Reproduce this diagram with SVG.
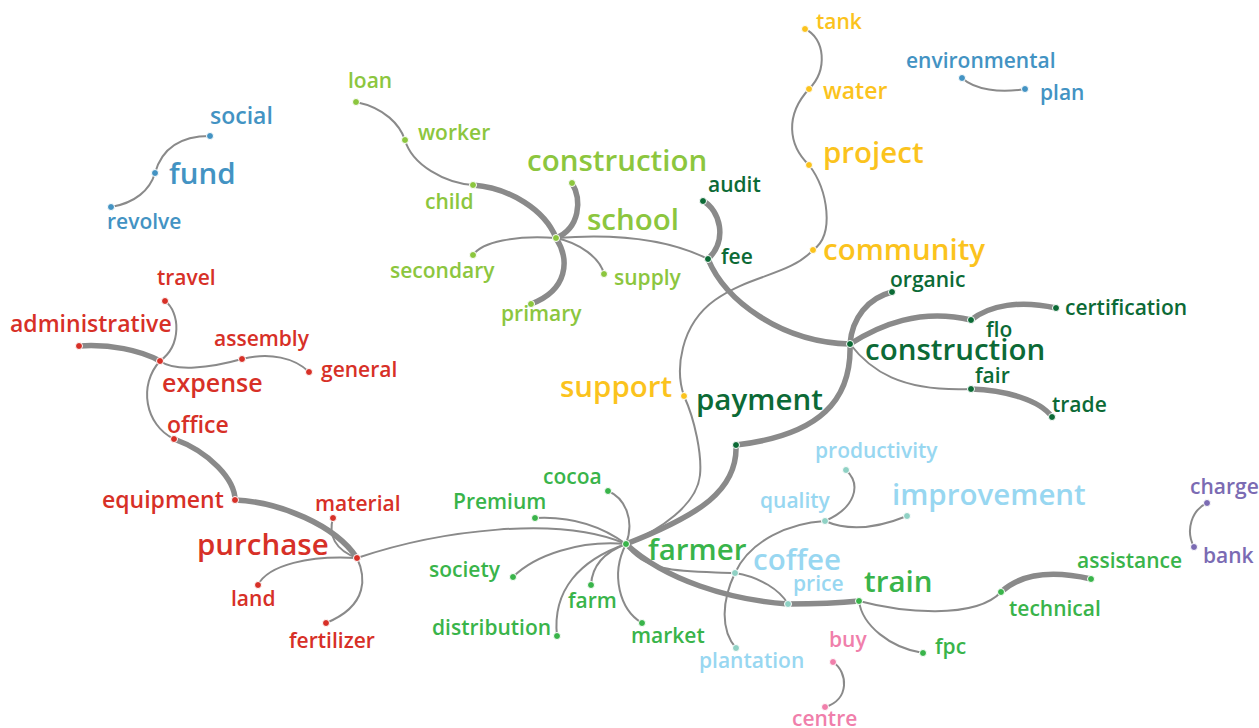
<svg xmlns="http://www.w3.org/2000/svg" width="1259" height="728" viewBox="0 0 1259 728">
<style>
text{font-family:"Open Sans","Noto Sans",sans-serif;font-weight:600}
.s{font-size:21px}.m{font-size:23px}.l{font-size:29.5px}.x{font-size:25px}
circle{stroke:#fff;stroke-width:1}
.e path{fill:none;stroke:#8a8a8a;stroke-width:2;stroke-linecap:round}
.e path.k{stroke-width:5.5}
.bl{fill:#4393c3}.rd{fill:#d73027}.lg{fill:#8cc63e}.dg{fill:#0c6a36}.yl{fill:#fbc31d}.gr{fill:#39b44a}.lb{fill:#98d7f1}.lbd{fill:#8fd1c4}.pk{fill:#f07fab}.pu{fill:#7b6bb3}
</style>
<rect width="1259" height="728" fill="#fff"/>
<g id="connectors" class="e">
<path d="M111,207 C135,203 150,190 155,173 C162,148 180,136 210,136"/>
<path d="M962,78 C975,90 1000,93 1025,89"/>
<path class="k" d="M79,346 C110,344 140,350 160,361"/>
<path d="M165,301 C180,312 182,345 160,361"/>
<path d="M160,361 C175,372 210,368 242,359 C270,352 295,358 309,372"/>
<path d="M160,361 C138,385 145,425 174,439"/>
<path class="k" d="M174,439 C210,452 235,480 235,500"/>
<path class="k" d="M235,500 C280,502 335,525 357,558"/>
<path d="M333,518 C328,535 335,550 357,558"/>
<path d="M357,558 C310,555 268,565 258,585"/>
<path d="M357,558 C365,575 370,605 326,623"/>
<path d="M357,558 C440,530 560,515 626,544"/>
<path d="M356,102 C385,108 400,125 405,140"/>
<path d="M405,140 C412,165 445,183 473,185"/>
<path class="k" d="M473,185 C510,188 545,210 556,238"/>
<path class="k" d="M572,183 C582,200 580,228 556,238"/>
<path class="k" d="M556,238 C570,260 568,290 531,304"/>
<path d="M556,238 C515,235 482,242 473,255"/>
<path d="M556,238 C580,243 600,258 604,274"/>
<path d="M556,238 C620,233 670,240 708,259"/>
<path class="k" d="M703,201 C720,210 728,240 708,259"/>
<path class="k" d="M708,259 C725,300 780,342 850,344"/>
<path class="k" d="M850,344 C852,318 868,298 892,292"/>
<path class="k" d="M850,344 C880,325 920,308 971,320"/>
<path class="k" d="M971,320 C990,305 1020,300 1056,308"/>
<path d="M850,344 C870,370 900,392 971,389"/>
<path class="k" d="M971,389 C1005,390 1040,400 1052,417"/>
<path class="k" d="M850,344 C852,400 820,435 736,445"/>
<path class="k" d="M736,445 C738,490 700,515 626,544"/>
<path d="M805,29 C825,38 828,70 809,89"/>
<path d="M809,89 C785,115 788,145 809,165"/>
<path d="M809,165 C828,190 835,235 813,250"/>
<path d="M813,250 C790,275 750,275 715,300 C680,325 675,370 684,396"/>
<path d="M684,396 C695,420 702,455 700,475 C697,505 660,530 626,544"/>
<path d="M608,491 C625,498 635,520 626,544"/>
<path d="M535,518 C570,516 600,525 626,544"/>
<path d="M513,577 C535,555 580,540 626,544"/>
<path d="M591,585 C592,565 605,552 626,544"/>
<path d="M557,636 C552,590 580,560 626,544"/>
<path d="M642,623 C620,610 610,575 626,544"/>
<path d="M626,544 C645,575 690,571 735,573"/>
<path class="k" d="M626,544 C665,580 730,600 788,604"/>
<path d="M735,573 C760,577 780,590 788,604"/>
<path d="M825,521 C790,523 750,540 735,573 C722,600 720,630 736,648"/>
<path d="M846,470 C862,485 855,508 825,521"/>
<path d="M825,521 C850,532 880,527 907,516"/>
<path d="M833,662 C848,672 850,700 825,707"/>
<path class="k" d="M788,604 C810,604 840,603 859,601"/>
<path d="M859,601 C900,612 975,620 1001,592"/>
<path class="k" d="M1001,592 C1025,570 1060,572 1091,579"/>
<path d="M859,601 C862,625 890,648 923,653"/>
<path d="M1207,503 C1192,510 1185,530 1194,547"/>
</g>
<g id="n-social"><circle class="bl" cx="210" cy="136" r="3.5"/><text class="bl m" x="210" y="124">social</text></g>
<g id="n-fund"><circle class="bl" cx="155" cy="173" r="3.5"/><text class="bl l" x="169" y="184">fund</text></g>
<g id="n-revolve"><circle class="bl" cx="111" cy="207" r="3.5"/><text class="bl s" x="107" y="229">revolve</text></g>
<g id="n-environmental"><circle class="bl" cx="962" cy="78" r="3.5"/><text class="bl s" x="906" y="68">environmental</text></g>
<g id="n-plan"><circle class="bl" cx="1025" cy="89" r="3.5"/><text class="bl s" x="1040" y="100">plan</text></g>
<g id="n-travel"><circle class="rd" cx="165" cy="301" r="3.5"/><text class="rd s" x="157" y="285">travel</text></g>
<g id="n-administrative"><circle class="rd" cx="79" cy="346" r="3.5"/><text class="rd m" x="10" y="332">administrative</text></g>
<g id="n-expense"><circle class="rd" cx="160" cy="361" r="3.5"/><text class="rd x" x="162" y="392">expense</text></g>
<g id="n-assembly"><circle class="rd" cx="242" cy="359" r="3.5"/><text class="rd s" x="214" y="346">assembly</text></g>
<g id="n-general"><circle class="rd" cx="309" cy="372" r="3.5"/><text class="rd s" x="321" y="377">general</text></g>
<g id="n-office"><circle class="rd" cx="174" cy="439" r="3.5"/><text class="rd m" x="167" y="433">office</text></g>
<g id="n-equipment"><circle class="rd" cx="235" cy="500" r="3.5"/><text class="rd m" x="102" y="508">equipment</text></g>
<g id="n-material"><circle class="rd" cx="333" cy="518" r="3.5"/><text class="rd s" x="315" y="511">material</text></g>
<g id="n-purchase"><circle class="rd" cx="357" cy="558" r="3.5"/><text class="rd l" x="197" y="555">purchase</text></g>
<g id="n-land"><circle class="rd" cx="258" cy="585" r="3.5"/><text class="rd s" x="231" y="606">land</text></g>
<g id="n-fertilizer"><circle class="rd" cx="326" cy="623" r="3.5"/><text class="rd s" x="289" y="648">fertilizer</text></g>
<g id="n-loan"><circle class="lg" cx="356" cy="102" r="3.5"/><text class="lg s" x="348" y="88">loan</text></g>
<g id="n-worker"><circle class="lg" cx="405" cy="140" r="3.5"/><text class="lg s" x="418" y="140">worker</text></g>
<g id="n-child"><circle class="lg" cx="473" cy="185" r="3.5"/><text class="lg s" x="425" y="209">child</text></g>
<g id="n-construction-lg"><circle class="lg" cx="572" cy="183" r="3.5"/><text class="lg l" x="527" y="171">construction</text></g>
<g id="n-school"><circle class="lg" cx="556" cy="238" r="3.5"/><text class="lg l" x="587" y="230">school</text></g>
<g id="n-secondary"><circle class="lg" cx="473" cy="255" r="3.5"/><text class="lg s" x="390" y="278">secondary</text></g>
<g id="n-supply"><circle class="lg" cx="604" cy="274" r="3.5"/><text class="lg s" x="614" y="285">supply</text></g>
<g id="n-primary"><circle class="lg" cx="531" cy="304" r="3.5"/><text class="lg s" x="501" y="321">primary</text></g>
<g id="n-audit"><circle class="dg" cx="703" cy="201" r="3.5"/><text class="dg s" x="708" y="192">audit</text></g>
<g id="n-fee"><circle class="dg" cx="708" cy="259" r="3.5"/><text class="dg s" x="721" y="264">fee</text></g>
<g id="n-organic"><circle class="dg" cx="892" cy="292" r="3.5"/><text class="dg s" x="890" y="287">organic</text></g>
<g id="n-flo"><circle class="dg" cx="971" cy="320" r="3.5"/><text class="dg s" x="986" y="337">flo</text></g>
<g id="n-certification"><circle class="dg" cx="1056" cy="308" r="3.5"/><text class="dg s" x="1065" y="315">certification</text></g>
<g id="n-construction-dg"><circle class="dg" cx="850" cy="344" r="3.5"/><text class="dg l" x="865" y="360">construction</text></g>
<g id="n-fair"><circle class="dg" cx="971" cy="389" r="3.5"/><text class="dg s" x="975" y="383">fair</text></g>
<g id="n-trade"><circle class="dg" cx="1052" cy="417" r="3.5"/><text class="dg s" x="1052" y="412">trade</text></g>
<g id="n-payment"><circle class="dg" cx="736" cy="445" r="3.5"/><text class="dg l" x="696" y="410">payment</text></g>
<g id="n-tank"><circle class="yl" cx="805" cy="29" r="3.5"/><text class="yl s" x="816" y="29">tank</text></g>
<g id="n-water"><circle class="yl" cx="809" cy="89" r="3.5"/><text class="yl m" x="823" y="99">water</text></g>
<g id="n-project"><circle class="yl" cx="809" cy="165" r="3.5"/><text class="yl l" x="823" y="163">project</text></g>
<g id="n-community"><circle class="yl" cx="813" cy="250" r="3.5"/><text class="yl l" x="823" y="260">community</text></g>
<g id="n-support"><circle class="yl" cx="684" cy="396" r="3.5"/><text class="yl l" x="560" y="397">support</text></g>
<g id="n-cocoa"><circle class="gr" cx="608" cy="491" r="3.5"/><text class="gr s" x="543" y="484">cocoa</text></g>
<g id="n-Premium"><circle class="gr" cx="535" cy="518" r="3.5"/><text class="gr s" x="453" y="509">Premium</text></g>
<g id="n-farmer"><circle class="gr" cx="626" cy="544" r="3.5"/><text class="gr l" x="648" y="560">farmer</text></g>
<g id="n-society"><circle class="gr" cx="513" cy="577" r="3.5"/><text class="gr s" x="429" y="577">society</text></g>
<g id="n-farm"><circle class="gr" cx="591" cy="585" r="3.5"/><text class="gr s" x="568" y="608">farm</text></g>
<g id="n-market"><circle class="gr" cx="642" cy="623" r="3.5"/><text class="gr s" x="631" y="643">market</text></g>
<g id="n-distribution"><circle class="gr" cx="557" cy="636" r="3.5"/><text class="gr s" x="432" y="635">distribution</text></g>
<g id="n-train"><circle class="gr" cx="859" cy="601" r="3.5"/><text class="gr l" x="864" y="592">train</text></g>
<g id="n-technical"><circle class="gr" cx="1001" cy="592" r="3.5"/><text class="gr s" x="1009" y="616">technical</text></g>
<g id="n-assistance"><circle class="gr" cx="1091" cy="579" r="3.5"/><text class="gr s" x="1077" y="568">assistance</text></g>
<g id="n-fpc"><circle class="gr" cx="923" cy="653" r="3.5"/><text class="gr s" x="935" y="654">fpc</text></g>
<g id="n-productivity"><circle class="lbd" cx="846" cy="470" r="3.5"/><text class="lb s" x="815" y="458">productivity</text></g>
<g id="n-quality"><circle class="lbd" cx="825" cy="521" r="3.5"/><text class="lb s" x="760" y="508">quality</text></g>
<g id="n-improvement"><circle class="lbd" cx="907" cy="516" r="3.5"/><text class="lb l" x="892" y="505">improvement</text></g>
<g id="n-coffee"><circle class="lbd" cx="735" cy="573" r="3.5"/><text class="lb l" x="753" y="570">coffee</text></g>
<g id="n-price"><circle class="lbd" cx="788" cy="604" r="3.5"/><text class="lb s" x="793" y="591">price</text></g>
<g id="n-plantation"><circle class="lbd" cx="736" cy="648" r="3.5"/><text class="lb s" x="699" y="668">plantation</text></g>
<g id="n-buy"><circle class="pk" cx="833" cy="662" r="3.5"/><text class="pk s" x="829" y="647">buy</text></g>
<g id="n-centre"><circle class="pk" cx="825" cy="707" r="3.5"/><text class="pk s" x="792" y="726">centre</text></g>
<g id="n-charge"><circle class="pu" cx="1207" cy="503" r="3.5"/><text class="pu s" x="1190" y="494">charge</text></g>
<g id="n-bank"><circle class="pu" cx="1194" cy="547" r="3.5"/><text class="pu s" x="1203" y="563">bank</text></g>
</svg>
